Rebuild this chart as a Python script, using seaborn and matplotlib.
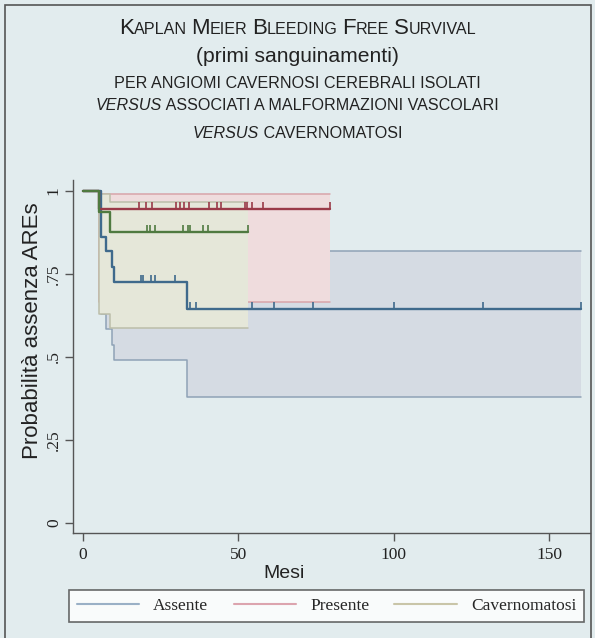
import numpy as np
import pandas as pd
import matplotlib
matplotlib.use("Agg")
import matplotlib.pyplot as plt
import seaborn as sns
from matplotlib.lines import Line2D
from matplotlib.patches import Rectangle
from matplotlib.offsetbox import TextArea, HPacker, AnnotationBbox

# ---------------- data ----------------
groups = ["Assente", "Presente", "Cavernomatosi"]

assente_t = [0, 5.7, 7.4, 9.4, 10.1, 33.5, 160.2]
assente_s = [1, 0.862, 0.82, 0.772, 0.727, 0.646, 0.646]
assente_lo = [1, 0.63, 0.585, 0.535, 0.49, 0.38, 0.38]
assente_hi = [1, 0.97, 0.94, 0.91, 0.88, 0.82, 0.82]
assente_cens = [18.7, 19.4, 21.9, 23.2, 29.6, 34.4, 36.3, 54.3, 61.6,
                73.9, 100.1, 128.8, 160.2]

presente_t = [0, 5.1, 79.5]
presente_s = [1, 0.946, 0.946]
presente_lo = [1, 0.666, 0.666]
presente_hi = [1, 0.991, 0.991]
presente_cens = [18.1, 20.3, 22.1, 29.9, 31.2, 32.5, 34.0, 40.6, 43.1,
                 44.4, 52.1, 52.7, 54.3, 58.0, 79.5]

caverno_t = [0, 5.1, 8.7, 53.0]
caverno_s = [1, 0.938, 0.876, 0.876]
caverno_lo = [1, 0.63, 0.587, 0.587]
caverno_hi = [1, 0.99, 0.967, 0.967]
caverno_cens = [20.7, 21.6, 23.2, 32.3, 33.7, 34.4, 38.7, 40.1, 53.0]

xticks = [0, 50, 100, 150]
yticks = [0, 0.25, 0.5, 0.75, 1]
yticklabels = ["0", ".25", ".5", ".75", "1"]

# ---------------- style ----------------
BG = "#e2ecee"
sns.set_theme(style="ticks")
plt.rcParams["font.family"] = ["Liberation Sans", "DejaVu Sans"]
plt.rcParams["axes.facecolor"] = BG
plt.rcParams["figure.facecolor"] = BG

line_cols = {"Assente": "#3f6a8c", "Presente": "#9a3a48", "Cavernomatosi": "#4f7a40"}
band_fill = {"Assente": "#d5dbe3", "Presente": "#efdcdd", "Cavernomatosi": "#e5e7d9"}
band_edge = {"Assente": "#8fa2b6", "Presente": "#d8a4a9", "Cavernomatosi": "#bcbea9"}
legend_cols = {"Assente": "#9ab0c6", "Presente": "#dca4ae", "Cavernomatosi": "#c9c5a8"}

series = {
    "Assente": (assente_t, assente_s, assente_lo, assente_hi, assente_cens),
    "Presente": (presente_t, presente_s, presente_lo, presente_hi, presente_cens),
    "Cavernomatosi": (caverno_t, caverno_s, caverno_lo, caverno_hi, caverno_cens),
}

fig = plt.figure(figsize=(5.95, 6.38), dpi=100)
ax = fig.add_axes([73 / 595, 105 / 638, 517 / 595, 353 / 638])
ax.set_facecolor(BG)

# bands (blue, red, green in drawing order, each with its own edges)
for i, g in enumerate(groups):
    t, s, lo, hi, c = series[g]
    z = 1 + 0.1 * i
    ax.fill_between(t, lo, hi, step="post", facecolor=band_fill[g],
                    edgecolor="none", zorder=z)
    ax.plot(t, lo, drawstyle="steps-post", color=band_edge[g], lw=1.1, zorder=z + 0.05)
    ax.plot(t, hi, drawstyle="steps-post", color=band_edge[g], lw=1.1, zorder=z + 0.05)

# survival lines + censor ticks
tick_marker = [(0, 0), (0, 1)]
for g in groups:
    t, s, lo, hi, c = series[g]
    df = pd.DataFrame({"t": t, "s": s})
    sns.lineplot(data=df, x="t", y="s", drawstyle="steps-post",
                 color=line_cols[g], lw=1.7, ax=ax, legend=False, zorder=3)
    ta = np.asarray(t)
    sa = np.asarray(s)
    cy = sa[np.searchsorted(ta, np.asarray(c), side="right") - 1]
    ax.plot(c, cy, ls="none", marker=tick_marker, ms=9.5, mew=1.2,
            color=line_cols[g], zorder=3)

ax.set_xlim(-3.2, 163.2)
ax.set_ylim(-0.03, 1.033)
ax.set_xticks(xticks)
ax.set_yticks(yticks)
ax.set_yticklabels(yticklabels, rotation=90, va="center")
for lab in ax.get_xticklabels() + ax.get_yticklabels():
    lab.set_family(["Liberation Serif", "DejaVu Serif"])
    lab.set_fontsize(12.5)
    lab.set_color("#222222")
ax.tick_params(axis="both", length=6, width=1, color="#555555", pad=4)
ax.tick_params(axis="y", pad=2)
for sp in ["top", "right"]:
    ax.spines[sp].set_visible(False)
for sp in ["left", "bottom"]:
    ax.spines[sp].set_color("#555555")
    ax.spines[sp].set_linewidth(1)
ax.grid(False)

ax.set_xlabel("Mesi", fontsize=14, color="#222222")
ax.set_ylabel("Probabilità assenza AREs", fontsize=16, color="#222222")
ax.xaxis.set_label_coords((284 - 73) / 517, (533 - 565) / 353)
ax.yaxis.set_label_coords((43 - 73) / 517, (533 - 331) / 353)

# legend
handles = [Line2D([], [], color=legend_cols[g], lw=1.5) for g in groups]
leg = fig.legend(handles, groups, loc="lower left",
                 bbox_to_anchor=(69 / 595, 1 - 622 / 638, (584 - 69) / 595, 33 / 638),
                 mode="expand", ncol=3, frameon=True, fancybox=False,
                 handlelength=3.6, handletextpad=0.8, borderaxespad=0,
                 borderpad=0.45, columnspacing=1.5,
                 prop={"family": ["Liberation Serif", "DejaVu Serif"], "size": 12.5})
leg.get_frame().set_edgecolor("#444444")
leg.get_frame().set_linewidth(1.2)
leg.get_frame().set_facecolor("white")

# titles
TC = "#222222"
S = 11.6


def small_caps(text, big, small):
    parts = []
    words = text.split(" ")
    for i, w in enumerate(words):
        parts.append(TextArea(w[0], textprops=dict(size=big, color=TC)))
        if len(w) > 1:
            parts.append(TextArea(w[1:].upper(), textprops=dict(size=small, color=TC)))
        if i < len(words) - 1:
            parts.append(TextArea(" ", textprops=dict(size=small, color=TC)))
    return HPacker(children=parts, align="baseline", pad=0, sep=0)


def place(box, yfrac):
    ab = AnnotationBbox(box, (0.5, yfrac), xycoords="figure fraction",
                        frameon=False, box_alignment=(0.5, 0.5), pad=0)
    fig.add_artist(ab)


place(small_caps("Kaplan Meier Bleeding Free Survival", 16, 11.6), 1 - 29 / 638)
fig.text(0.5, 1 - 57 / 638, "(primi sanguinamenti)", ha="center", va="center",
         fontsize=15.2, color=TC)
fig.text(0.5, 1 - 83 / 638, "PER ANGIOMI CAVERNOSI CEREBRALI ISOLATI", ha="center",
         va="center", fontsize=S, color=TC)
line4 = HPacker(children=[
    TextArea("VERSUS", textprops=dict(size=S, style="italic", color=TC)),
    TextArea(" ASSOCIATI A MALFORMAZIONI VASCOLARI", textprops=dict(size=S, color=TC)),
], align="baseline", pad=0, sep=0)
place(line4, 1 - 106 / 638)
line5 = HPacker(children=[
    TextArea("VERSUS", textprops=dict(size=S, style="italic", color=TC)),
    TextArea(" CAVERNOMATOSI", textprops=dict(size=S, color=TC)),
], align="baseline", pad=0, sep=0)
place(line5, 1 - 133 / 638)

# outer frame
fig.add_artist(Rectangle((5 / 595, -0.01), 586 / 595, 1 - 5 / 638 + 0.01,
                         transform=fig.transFigure, fill=False,
                         edgecolor="#555555", lw=1.2))

fig.savefig("out.png", dpi=100, facecolor=BG)
